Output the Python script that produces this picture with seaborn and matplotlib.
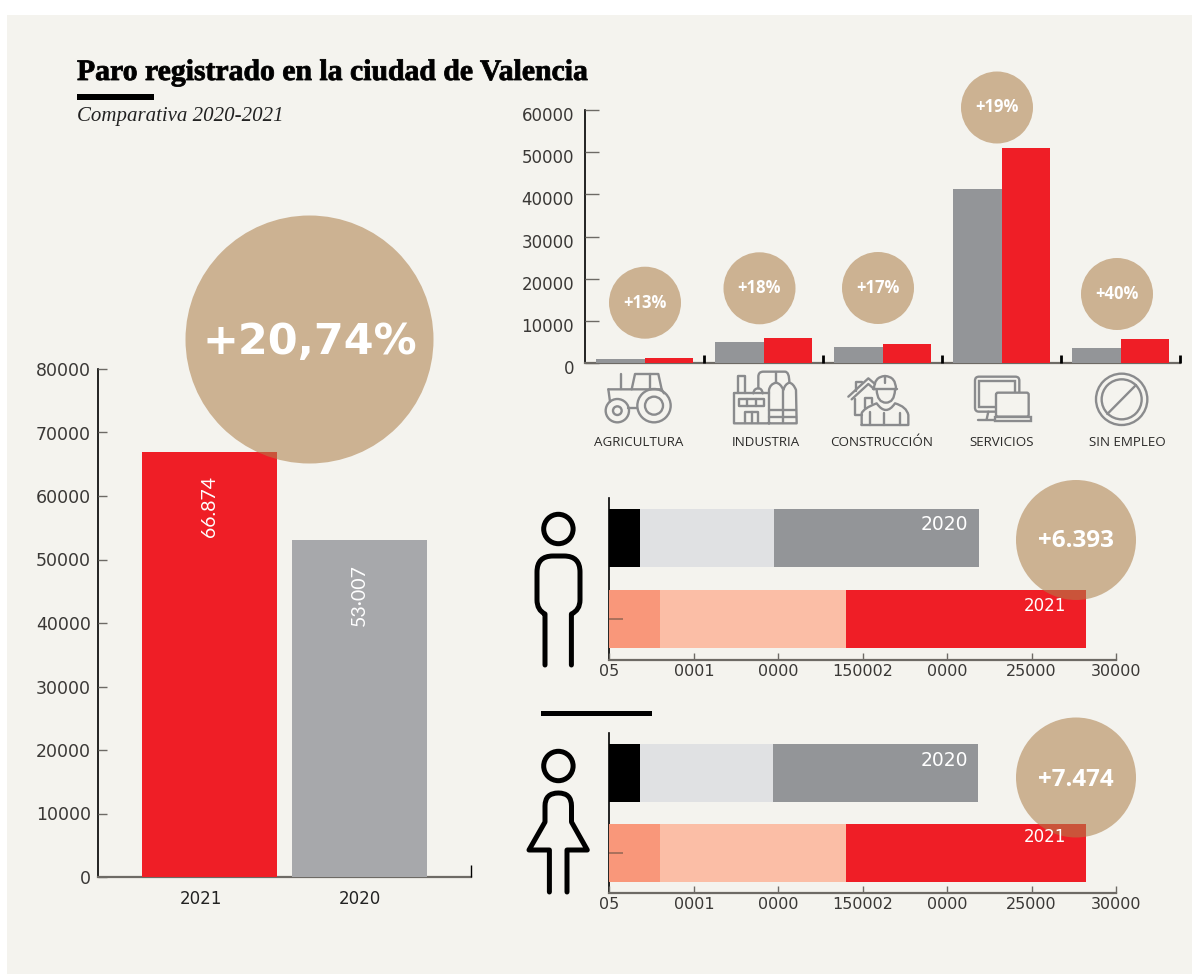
import matplotlib
matplotlib.use('Agg')
import matplotlib.pyplot as plt
import matplotlib.patheffects as pe
import matplotlib.transforms as mtrans
from matplotlib.patches import Circle, PathPatch, Rectangle, FancyBboxPatch
from matplotlib.path import Path
import pandas as pd
import seaborn as sns

# datos
years = ['2021', '2020']
totals = [66874, 53007]
total_labels = ['66.874', '53·007']
total_ticks = [0, 10000, 20000, 30000, 40000, 50000, 60000, 70000, 80000]

sectors = ['AGRICULTURA', 'INDUSTRIA', 'CONSTRUCCIÓN', 'SERVICIOS', 'SIN EMPLEO']
sector_2020 = [1050, 4900, 3700, 41200, 3500]
sector_2021 = [1250, 5900, 4400, 51000, 5600]
sector_change = ['+13%', '+18%', '+17%', '+19%', '+40%']
sector_ticks = [0, 10000, 20000, 30000, 40000, 50000, 60000]

# fin acumulado de cada tramo: fila 2020, fila 2021
rows = ['2020', '2021']
men_ends = [[1810, 3020], [9750, 14000], [21900, 28230]]
women_ends = [[1810, 3020], [9690, 14000], [21820, 28230]]
sex_ticks = [0, 5000, 10000, 15000, 20000, 25000, 30000]
sex_tick_labels = ['05', '0001', '0000', '150002', '0000', '25000', '30000']

BG = '#F4F3EE'
RED = '#EF1E26'
GREY = '#939598'
LIGHT_GREY = '#A7A8AB'
TAN = '#AD7F4A'
ICON = '#8A8B8D'
TEXT = '#3A3836'
AXIS = '#6D6A65'
W, H = 1200, 974

sns.set_theme(style='white')
plt.rcParams['font.family'] = ['DejaVu Sans']
plt.rcParams['axes.facecolor'] = 'none'

fig = plt.figure(figsize=(W / 100, H / 100), dpi=100, facecolor='white')
fig.patches.append(Rectangle((7 / W, 0), 1185 / W, 959 / H, transform=fig.transFigure,
                             facecolor=BG, edgecolor='none', zorder=-10))


def axes_px(x0, y0, x1, y1):
    # caja en pixeles de la imagen, con y hacia abajo
    return fig.add_axes([x0 / W, 1 - y1 / H, (x1 - x0) / W, (y1 - y0) / H])


def shift_labels(labels, dx=0, dy=0):
    for lab in labels:
        lab.set_transform(lab.get_transform() + mtrans.ScaledTranslation(dx / 100, dy / 100, fig.dpi_scale_trans))


def clean_axes(ax):
    sns.despine(ax=ax)
    ax.spines['left'].set_color('black')
    ax.spines['left'].set_linewidth(1.2)
    ax.spines['left'].set_zorder(0.5)
    ax.spines['bottom'].set_color(AXIS)
    ax.spines['bottom'].set_linewidth(1.6)
    ax.spines['bottom'].set_zorder(0.5)
    ax.set_xlabel('')
    ax.set_ylabel('')


# total por año
ax1 = axes_px(97.7, 369, 471, 877)
sns.barplot(x=years, y=totals, hue=years, palette=[RED, LIGHT_GREY], width=0.9, saturation=1,
            linewidth=0, legend=False, ax=ax1)
ax1.set_xlim(-0.745, 1.743)
ax1.set_ylim(0, 80000)
clean_axes(ax1)
ax1.set_yticks(total_ticks)
ax1.tick_params(axis='y', left=True, direction='in', length=6.5, width=1, color=AXIS, pad=5,
                labelsize=12.5, labelcolor=TEXT)
ax1.tick_params(axis='x', length=0, pad=9, labelsize=12, labelcolor='#222222')
shift_labels(ax1.get_xticklabels()[:1], dx=-9)
ax1.set_xticks([1.743], minor=True)
ax1.tick_params(axis='x', which='minor', bottom=True, direction='in', length=9, width=1, color='black')
for cont, lab in zip(ax1.containers, total_labels):
    for t in ax1.bar_label(cont, labels=[lab], padding=-17, rotation=90, color='white',
                           fontsize=14, family='Lato'):
        t.set_va('top')

# sectores
sector_df = pd.DataFrame({'sector': sectors * 2, 'paro': sector_2020 + sector_2021,
                          'year': ['2020'] * 5 + ['2021'] * 5})
ax2 = axes_px(585, 110, 1180, 363)
sns.barplot(data=sector_df, x='sector', y='paro', hue='year', palette=[GREY, RED], width=0.807,
            gap=0, saturation=1, linewidth=0, legend=False, ax=ax2)
ax2.set_xlim(-0.5, 4.5)
ax2.set_ylim(0, 60000)
clean_axes(ax2)
ax2.set_yticks(sector_ticks)
ax2.tick_params(axis='y', left=True, direction='in', length=10, width=1, color=AXIS, pad=8,
                labelsize=12, labelcolor=TEXT)
shift_labels(ax2.get_yticklabels(), dy=-4)
ax2.set_xticks(range(5))
ax2.set_xticklabels([])
ax2.tick_params(axis='x', length=0)
ax2.set_xticks([0.5, 1.5, 2.5, 3.5, 4.5], minor=True)
ax2.tick_params(axis='x', which='minor', bottom=True, direction='in', length=6, width=2, color='black')


def sex_bars(box, ends):
    ax = axes_px(*box)
    colors = [['#000000', '#F9977A'], ['#E0E1E3', '#FBBEA6'], [GREY, RED]]
    # del tramo mas largo al mas corto, para que se vean todos
    for seg, cols in zip(ends[::-1], colors[::-1]):
        sns.barplot(x=seg, y=rows, hue=rows, palette=cols, width=0.72, saturation=1,
                    linewidth=0, orient='h', legend=False, ax=ax)
    ax.set_xlim(0, 30000)
    ax.set_ylim(1.5, -0.5)
    clean_axes(ax)
    ax.set_axisbelow(False)
    ax.set_xticks(sex_ticks)
    ax.set_xticklabels(sex_tick_labels)
    ax.set_yticks([1])
    ax.set_yticklabels([])
    ax.tick_params(axis='x', bottom=True, direction='in', length=5, width=1, color=AXIS, pad=3,
                   labelsize=11.5, labelcolor=TEXT)
    ax.tick_params(axis='y', left=True, direction='in', length=10, width=1.4, color='#A8705C')
    return ax


ax3 = sex_bars((609.4, 497.5, 1116, 659.5), men_ends)
ax4 = sex_bars((609.4, 733, 1116, 893), women_ends)

# capa de dibujo en pixeles: circulos, iconos y rotulos
ov = fig.add_axes([0, 0, 1, 1])
ov.set_xlim(0, W)
ov.set_ylim(H, 0)
ov.axis('off')


def bubble(x, y, r, label, font, size, weight='bold', dy=0):
    ov.add_patch(Circle((x, y), r, facecolor=TAN, edgecolor='none', alpha=0.56))
    ov.text(x, y + dy, label, color='white', family=font, fontsize=size, fontweight=weight,
            ha='center', va='center')


bubble(309.5, 339.5, 124, '+20,74%', 'DejaVu Sans', 31, dy=2)
bubble(1076, 540, 60, '+6.393', 'Open Sans', 17.5, dy=1)
bubble(1076, 777.5, 60, '+7.474', 'Open Sans', 17.5, dy=2)
bubble_pos = [(645, 302.7), (759.5, 288.3), (878, 288), (997, 107.5), (1117, 294)]
for (bx, by), lab in zip(bubble_pos, sector_change):
    bubble(bx, by, 36, lab, 'Open Sans', 12)

for x, y, lab, size in [(968, 524, '2020', 13.5), (1066, 606, '2021', 12), (968, 761, '2020', 13.5), (1066, 837, '2021', 12)]:
    ov.text(x, y, lab, color='white', fontsize=size, ha='right', va='center')

ov.text(77, 80, 'Paro registrado en la ciudad de Valencia', family='Liberation Serif',
        fontweight='bold', fontsize=21.4, color='black', ha='left', va='baseline',
        path_effects=[pe.Stroke(linewidth=0.6, foreground='black')])
ov.add_patch(Rectangle((76.5, 93.5), 77.5, 6, facecolor='black', edgecolor='none'))
ov.text(77, 116, 'Comparativa 2020-2021', family='Liberation Serif', style='italic', fontsize=15,
        color='#222222', ha='left', va='center')
ov.add_patch(Rectangle((541, 710.5), 111, 5, facecolor='black', edgecolor='none'))

sector_label_x = [639, 766, 882, 1002, 1127]
for x, lab in zip(sector_label_x, sectors):
    ov.text(x, 442, lab, family='Open Sans', fontsize=9.6, color='#2B2A29', ha='center', va='center')


def stroke(pts, color='black', lw=3.6, closed=False, fill='none', zorder=3):
    # una lista de puntos; un punto de 4 valores es una curva cuadratica
    verts, codes = [], []
    for i, p in enumerate(pts):
        if len(p) == 4:
            verts += [(p[0], p[1]), (p[2], p[3])]
            codes += [Path.CURVE3, Path.CURVE3]
        else:
            verts.append(p)
            codes.append(Path.MOVETO if i == 0 else Path.LINETO)
    if closed:
        verts.append(pts[0])
        codes.append(Path.CLOSEPOLY)
    ov.add_patch(PathPatch(Path(verts, codes), facecolor=fill, edgecolor=color, lw=lw,
                           capstyle='round', joinstyle='round', zorder=zorder))


# hombre
ov.add_patch(Circle((558.4, 529), 14.7, facecolor='none', edgecolor='black', lw=3.6))
stroke([(545, 665), (545, 614), (537, 610, 537, 600), (537, 572), (537, 556, 553, 556), (564, 556),
        (580, 556, 580, 572), (580, 600), (580, 610, 571.4, 614), (571.4, 665)])
# mujer
ov.add_patch(Circle((558.4, 766), 14.7, facecolor='none', edgecolor='black', lw=3.6))
stroke([(549.4, 892), (549.4, 850), (529, 850), (545, 822), (545, 806), (545, 793, 558.4, 793),
        (571.5, 793, 571.5, 806), (571.5, 822), (587.3, 850), (567, 850), (567, 892)])


def zoomed(origin, pts):
    ox, oy = origin
    out = []
    for p in pts:
        out.append(tuple(ox + v / 3 if i % 2 == 0 else oy + v / 3 for i, v in enumerate(p)))
    return out


def icon(origin, pts, closed=False, fill='none', zorder=3):
    stroke(zoomed(origin, pts), color=ICON, lw=1.7, closed=closed, fill=fill, zorder=zorder)


def icon_ring(origin, x, y, r):
    ov.add_patch(Circle((origin[0] + x / 3, origin[1] + y / 3), r / 3, facecolor='none',
                        edgecolor=ICON, lw=1.7))


A = (590, 360)
# tractor
icon_ring(A, 192, 137, 50)
icon_ring(A, 192, 137, 27)
icon_ring(A, 82, 152, 35)
icon_ring(A, 82, 152, 13)
icon(A, [(93, 42), (93, 88)])
icon(A, [(55, 88), (215, 88), (222, 100)])
icon(A, [(55, 88), (60, 125)])
icon(A, [(125, 88), (135, 42), (205, 42), (215, 88)])
icon(A, [(180, 42), (180, 88)])
icon(A, [(115, 145), (142, 145)])
# fabrica
icon(A, [(443, 98), (443, 48), (465, 48), (465, 98)])
icon(A, [(432, 100), (537, 100)])
icon(A, [(432, 100), (432, 190), (620, 190), (618, 90), (610, 70, 598, 68), (585, 72, 580, 90),
         (572, 70, 558, 68), (540, 72, 537, 90), (537, 190)])
icon(A, [(580, 90), (580, 190)])
icon(A, [(537, 150), (618, 150)])
icon(A, [(537, 170), (618, 170)])
icon(A, [(505, 85), (505, 50), (505, 35, 520, 35), (585, 35), (598, 35, 598, 68)])
icon(A, [(558, 35), (558, 68)])
icon(A, [(490, 100), (492, 85, 505, 85), (516, 85, 518, 100)])
icon(A, [(447, 118), (523, 118), (523, 137), (447, 137)], closed=True)
icon(A, [(472, 118), (472, 137)])
icon(A, [(497, 118), (497, 137)])
icon(A, [(465, 190), (465, 155), (505, 155), (505, 190)])
icon(A, [(485, 155), (485, 190)])

B = (830, 360)
# obrero y casa
icon(B, [(55, 110), (115, 55), (135, 72)])
icon(B, [(65, 118), (115, 72), (130, 85)])
icon(B, [(78, 92), (78, 65), (95, 65)])
icon(B, [(75, 118), (75, 165), (95, 165)])
icon(B, [(105, 145), (105, 115), (125, 115), (125, 130)])
icon(B, [(132, 88), (132, 50, 165, 48), (198, 50, 198, 88)])
icon(B, [(128, 88), (202, 88)])
icon(B, [(165, 48), (165, 70)])
icon(B, [(140, 90), (142, 128, 168, 128), (193, 128, 195, 90)])
icon(B, [(95, 195), (95, 160), (100, 145, 140, 130), (168, 170, 195, 130), (230, 140, 235, 165),
         (235, 195), (95, 195)])
icon(B, [(120, 155), (120, 195)])
icon(B, [(163, 158), (163, 195)])
icon(B, [(210, 160), (210, 195)])
# ordenadores
ox0, oy0 = B
monitor = FancyBboxPatch((ox0 + 435 / 3, oy0 + 50 / 3), 133 / 3, 105 / 3, boxstyle='round,pad=0,rounding_size=4',
                         facecolor='none', edgecolor=ICON, lw=1.7)
ov.add_patch(monitor)
ov.add_patch(Rectangle((ox0 + 447 / 3, oy0 + 62 / 3), 108 / 3, 78 / 3, facecolor='none', edgecolor=ICON, lw=1.7))
icon(B, [(475, 155), (470, 178)])
icon(B, [(445, 180), (495, 180)])
laptop = FancyBboxPatch((ox0 + 498 / 3, oy0 + 98 / 3), 98 / 3, 72 / 3, boxstyle='round,pad=0,rounding_size=2',
                        facecolor=BG, edgecolor=ICON, lw=1.7, zorder=4)
ov.add_patch(laptop)
ov.add_patch(Rectangle((ox0 + 495 / 3, oy0 + 172 / 3), 107 / 3, 11 / 3, facecolor=BG, edgecolor=ICON, lw=1.7, zorder=4))
# prohibido
icon_ring(B, 875, 118, 77)
icon_ring(B, 875, 118, 60)
icon(B, [(832, 162), (918, 75)])

fig.savefig('out.png', dpi=100, facecolor='white')
